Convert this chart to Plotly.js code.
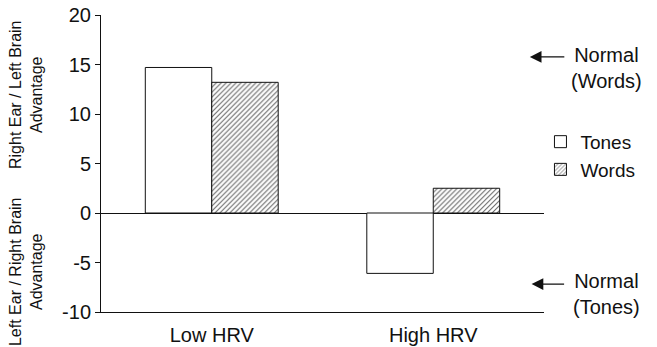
<!DOCTYPE html>
<html>
<head>
<meta charset="utf-8">
<script src="https://cdn.plot.ly/plotly-3.0.1.min.js"></script>
<style>html,body{margin:0;padding:0;background:#fff;}#chart{width:657px;height:347px;}</style>
</head>
<body>
<div id="chart"></div>
<script>
var categories = ["Low HRV", "High HRV"];
var tonesValues = [14.7, -6.1];
var wordsValues = [13.2, 2.5];
var yTickValues = [-10, -5, 0, 5, 10, 15, 20];
var yTickLabels = ["-10", "-5", "0", "5", "10", "15", "20"];

var FONT = "Liberation Sans, Arial, Helvetica, sans-serif";
var INK = "#111";

var traces = [
  {
    type: "bar", name: "Tones", x: categories, y: tonesValues,
    marker: {color: "#ffffff", line: {color: INK, width: 1}}
  },
  {
    type: "bar", name: "Words", x: categories, y: wordsValues,
    marker: {
      color: "#ffffff",
      line: {color: INK, width: 1},
      pattern: {shape: "/", fgcolor: "#666", bgcolor: "#ffffff", size: 3.5, solidity: 0.3}
    }
  }
];

var layout = {
  width: 657, height: 347,
  margin: {l: 101, r: 113, t: 15, b: 35},
  paper_bgcolor: "#fff", plot_bgcolor: "#fff",
  font: {family: FONT, color: INK, size: 19},
  barmode: "group", bargap: 0.4, bargroupgap: 0,
  showlegend: true,
  legend: {
    x: 0.992, xanchor: "left", y: 0.637, yanchor: "top",
    font: {family: FONT, size: 19, color: INK},
    bgcolor: "rgba(0,0,0,0)", traceorder: "normal"
  },
  xaxis: {
    type: "category", range: [-0.5, 1.5],
    showline: true, linecolor: INK, linewidth: 1,
    showgrid: false, zeroline: false, ticks: "",
    ticklabelstandoff: 5,
    tickfont: {family: FONT, size: 20, color: INK},
    fixedrange: true
  },
  yaxis: {
    range: [-10, 20], tickvals: yTickValues, ticktext: yTickLabels,
    showline: true, linecolor: INK, linewidth: 1,
    ticks: "outside", ticklen: 5, tickcolor: INK, tickwidth: 1,
    showgrid: false, zeroline: true, zerolinecolor: INK, zerolinewidth: 1,
    tickfont: {family: FONT, size: 20, color: INK},
    fixedrange: true
  },
  annotations: [
    {
      xref: "paper", yref: "paper", x: -0.169, y: 0.731,
      xanchor: "center", yanchor: "middle", textangle: -90,
      text: "Right Ear / Left Brain<br>Advantage", showarrow: false,
      font: {family: FONT, size: 16, color: INK}
    },
    {
      xref: "paper", yref: "paper", x: -0.169, y: 0.135,
      xanchor: "center", yanchor: "middle", textangle: -90,
      text: "Left Ear / Right Brain<br>Advantage", showarrow: false,
      font: {family: FONT, size: 16, color: INK}
    },
    {
      xref: "paper", yref: "paper", x: 0.968, y: 0.859,
      axref: "pixel", ayref: "pixel", ax: 36, ay: 0,
      text: "", showarrow: true, arrowhead: 2, arrowsize: 1.8, arrowwidth: 1.3,
      arrowcolor: INK, standoff: 0
    },
    {
      xref: "paper", yref: "paper", x: 1.142, y: 0.822,
      xanchor: "center", yanchor: "middle", align: "center",
      text: "Normal<br>(Words)", showarrow: false,
      font: {family: FONT, size: 20, color: INK}
    },
    {
      xref: "paper", yref: "paper", x: 0.972, y: 0.094,
      axref: "pixel", ayref: "pixel", ax: 34, ay: 0,
      text: "", showarrow: true, arrowhead: 2, arrowsize: 1.8, arrowwidth: 1.3,
      arrowcolor: INK, standoff: 0
    },
    {
      xref: "paper", yref: "paper", x: 1.142, y: 0.062,
      xanchor: "center", yanchor: "middle", align: "center",
      text: "Normal<br>(Tones)", showarrow: false,
      font: {family: FONT, size: 20, color: INK}
    }
  ]
};

Plotly.newPlot("chart", traces, layout, {displayModeBar: false, staticPlot: true});
</script>
</body>
</html>
